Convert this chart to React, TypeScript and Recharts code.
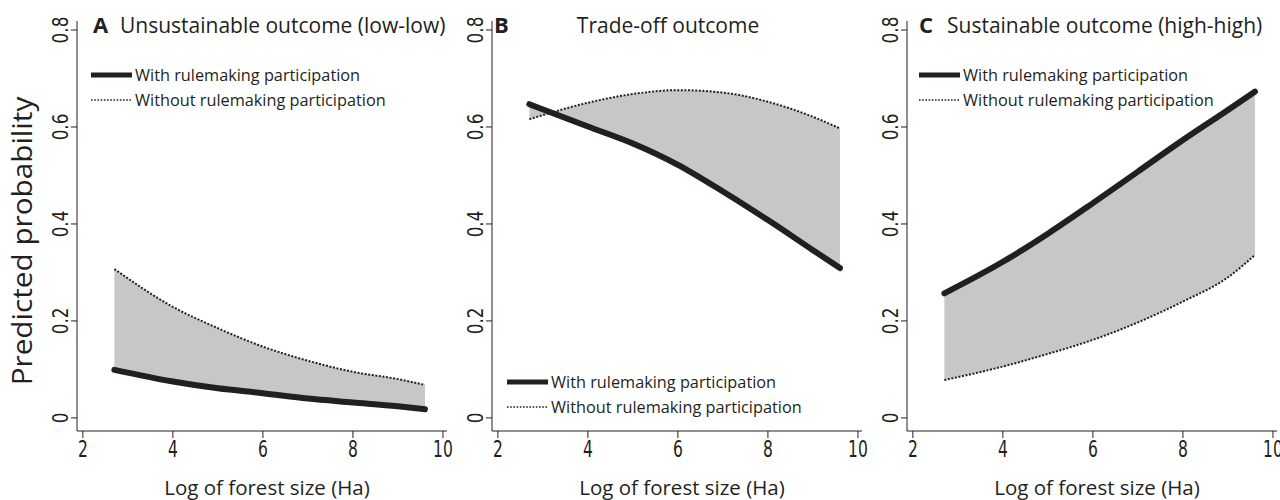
import React from 'react';
import { ComposedChart, Area, Line, XAxis, YAxis } from 'recharts';

// log of forest size (Ha) where the predictions were read
const forestSize = [2.7, 4, 5, 6, 7, 8, 9, 9.6];

const lowLowWith = [0.099, 0.075, 0.061, 0.051, 0.04, 0.032, 0.024, 0.018];
const lowLowWithout = [0.307, 0.229, 0.185, 0.147, 0.118, 0.095, 0.08, 0.068];
const tradeOffWith = [0.647, 0.601, 0.566, 0.522, 0.467, 0.408, 0.346, 0.309];
const tradeOffWithout = [0.616, 0.65, 0.668, 0.676, 0.671, 0.652, 0.621, 0.597];
const highHighWith = [0.257, 0.322, 0.38, 0.443, 0.508, 0.573, 0.635, 0.673];
const highHighWithout = [0.078, 0.106, 0.132, 0.161, 0.197, 0.24, 0.29, 0.336];

const xTicks = [2, 4, 6, 8, 10];
const yTicks = [0, 0.2, 0.4, 0.6, 0.8];
const yTickLabels = ['0', '0.2', '0.4', '0.6', '0.8'];

const panelLetters = ['A', 'B', 'C'];
const panelTitles = ['Unsustainable outcome (low-low)', 'Trade-off outcome', 'Sustainable outcome (high-high)'];
const legendLabels = ['With rulemaking participation', 'Without rulemaking participation'];
const xTitle = 'Log of forest size (Ha)';
const yTitle = 'Predicted probability';

const INK = '#231f20';
const SHADE = '#c6c7c9';
const TEXT_FONT = '"Open Sans", "Noto Sans", sans-serif';
const TICK_FONT = '"Liberation Sans Narrow", "DejaVu Sans Condensed", sans-serif';

const buildRows = (withVals: number[], withoutVals: number[]) =>
  forestSize.map((x, i) => ({ x, with: withVals[i], without: withoutVals[i] }));

const panels = [
  { rows: buildRows(lowLowWith, lowLowWithout), left: 0, letterX: 93, titleX: 120, titleAnchor: 'start', legend: { x: 91, y: 75 } },
  { rows: buildRows(tradeOffWith, tradeOffWithout), left: 415, letterX: 494, titleX: 668, titleAnchor: 'middle', legend: { x: 507, y: 382 } },
  { rows: buildRows(highHighWith, highHighWithout), left: 830, letterX: 919, titleX: 947, titleAnchor: 'start', legend: { x: 919, y: 75 } },
];

const XTick = (props: any) => {
  const { x, y, payload } = props;
  return (
    <g transform={`translate(${x},${y}) scale(0.75,1)`}>
      <text x={0} y={0} dy={17} textAnchor="middle" fontFamily={TICK_FONT} fontSize={23} fill={INK}>
        {payload.value}
      </text>
    </g>
  );
};

const YTick = (props: any) => {
  const { x, y, payload } = props;
  const label = yTickLabels[yTicks.indexOf(payload.value)] ?? String(payload.value);
  return (
    <g transform={`translate(${x - 1},${y}) rotate(-90) scale(0.85,1)`}>
      <text x={0} y={0} textAnchor="middle" fontFamily={TICK_FONT} fontSize={22} fill={INK}>
        {label}
      </text>
    </g>
  );
};

function Panel({ rows }: { rows: any[] }) {
  return (
    <ComposedChart width={455} height={500} data={rows} margin={{ top: 21, right: 8, bottom: 0, left: 37 }}>
      <XAxis
        type="number"
        dataKey="x"
        domain={[1.87, 10.09]}
        ticks={xTicks}
        allowDataOverflow
        height={69}
        tickSize={7}
        tickMargin={2}
        stroke={INK}
        tick={<XTick />}
      />
      <YAxis
        type="number"
        domain={[-0.027, 0.8186]}
        ticks={yTicks}
        allowDataOverflow
        width={40}
        tickSize={6}
        tickMargin={2}
        stroke={INK}
        tick={<YTick />}
      />
      <Area
        type="monotone"
        dataKey={(d: any) => [d.with, d.without]}
        fill={SHADE}
        fillOpacity={1}
        stroke="none"
        isAnimationActive={false}
      />
      <Line
        type="monotone"
        dataKey="without"
        stroke={INK}
        strokeWidth={2}
        strokeDasharray="2 1.6"
        dot={false}
        isAnimationActive={false}
      />
      <Line
        type="monotone"
        dataKey="with"
        stroke={INK}
        strokeWidth={6}
        strokeLinecap="round"
        dot={false}
        isAnimationActive={false}
      />
    </ComposedChart>
  );
}

export default function App() {
  return (
    <div style={{ position: 'absolute', left: 0, top: 0, width: 1280, height: 500, background: '#fff', overflow: 'hidden' }}>
      {panels.map((p, i) => (
        <div key={i} style={{ position: 'absolute', left: p.left, top: 0 }}>
          <Panel rows={p.rows} />
        </div>
      ))}
      <svg width={1280} height={500} style={{ position: 'absolute', left: 0, top: 0, pointerEvents: 'none' }}>
        <g transform="translate(32,241) rotate(-90) scale(1.1,1)">
          <text x={0} y={0} textAnchor="middle" fontFamily={TEXT_FONT} fontSize={27} fill={INK}>
            {yTitle}
          </text>
        </g>
        {panels.map((p, i) => (
          <g key={i}>
            <text x={p.letterX} y={33} fontFamily={TEXT_FONT} fontSize={22} fontWeight="bold" fill={INK}>
              {panelLetters[i]}
            </text>
            <text x={p.titleX} y={33} textAnchor={p.titleAnchor as any} fontFamily={TEXT_FONT} fontSize={21} fill={INK}>
              {panelTitles[i]}
            </text>
            <line x1={p.legend.x} x2={p.legend.x + 41} y1={p.legend.y} y2={p.legend.y} stroke={INK} strokeWidth={5} />
            <line
              x1={p.legend.x}
              x2={p.legend.x + 41}
              y1={p.legend.y + 25}
              y2={p.legend.y + 25}
              stroke={INK}
              strokeWidth={1.6}
              strokeDasharray="1.6 1.6"
            />
            <text x={p.legend.x + 44} y={p.legend.y + 6} fontFamily={TEXT_FONT} fontSize={16.3} fill={INK}>
              {legendLabels[0]}
            </text>
            <text x={p.legend.x + 44} y={p.legend.y + 31} fontFamily={TEXT_FONT} fontSize={16.3} fill={INK}>
              {legendLabels[1]}
            </text>
            <text x={p.left + 77 + 190} y={495} textAnchor="middle" fontFamily={TEXT_FONT} fontSize={20.5} fill={INK}>
              {xTitle}
            </text>
          </g>
        ))}
      </svg>
    </div>
  );
}
